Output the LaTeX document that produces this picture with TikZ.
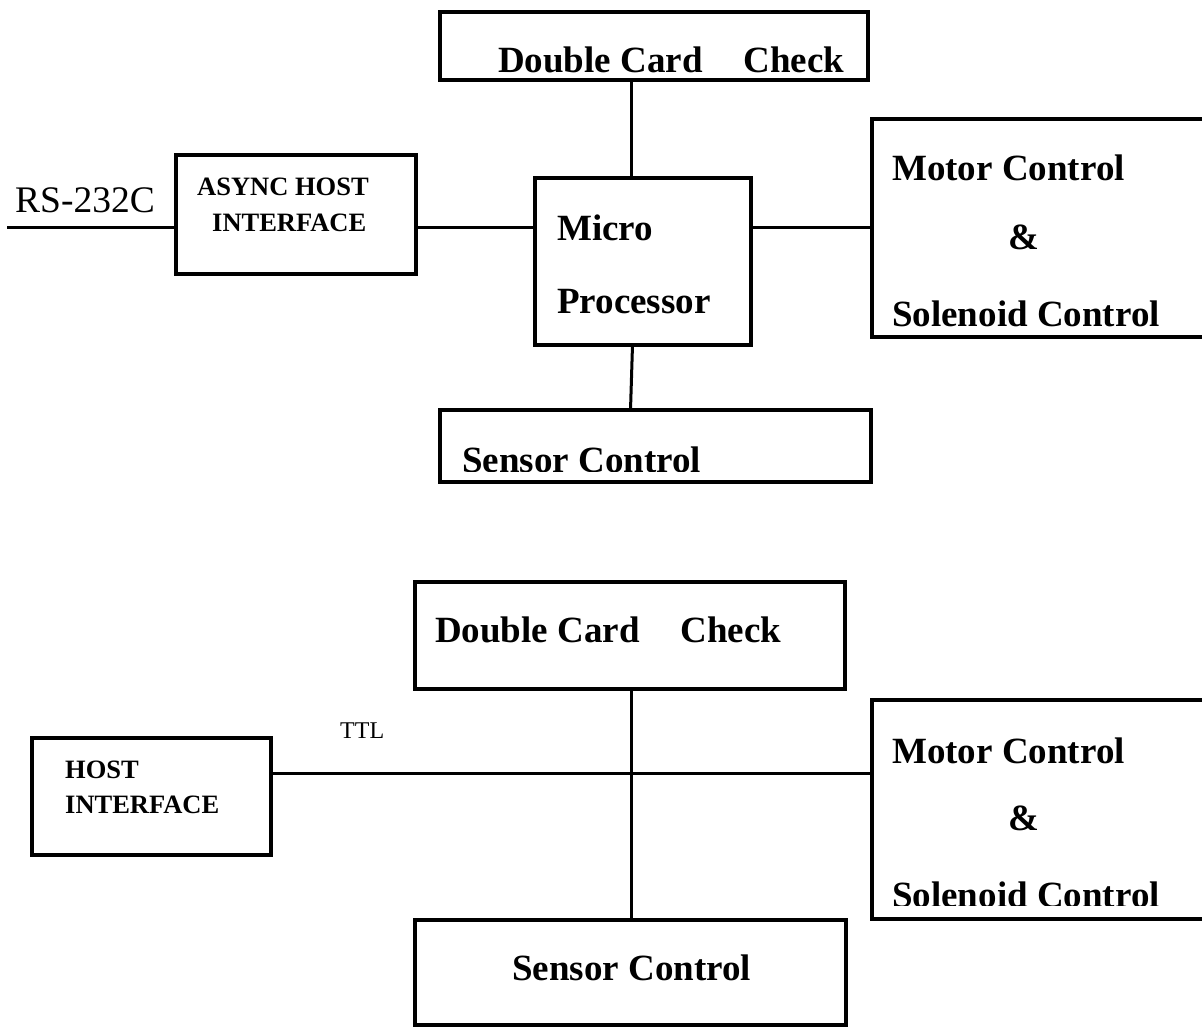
\documentclass[tikz,border=0pt]{standalone}
\usepackage{fontspec}
\setmainfont{Liberation Serif}
\usetikzlibrary{calc}

\tikzset{
  box/.style={draw, line width=4pt, inner sep=0pt, outer sep=0pt},
  wire/.style={line width=3pt},
  big/.style={anchor=base west, inner sep=0pt, font=\bfseries\fontsize{37}{40}\selectfont},
  small/.style={anchor=base west, inner sep=0pt, font=\bfseries\fontsize{26.5}{30}\selectfont},
  plain/.style={anchor=base west, inner sep=0pt}
}

\begin{document}
\begin{tikzpicture}[x=1pt, y=-1pt]
        \useasboundingbox (0,0) rectangle (1202,1028);

        % Верхняя схема
        \node[box, minimum width=428pt, minimum height=68pt] (dcA) at (654,45.5) {};
        \node[box, minimum width=216pt, minimum height=167pt] (mpA) at (643,261.5) {};
        \node[box, minimum width=431.5pt, minimum height=72pt] (seA) at (655.25,446) {};
        \node[box, minimum width=348pt, minimum height=218pt] (moA) at (1046,228) {};
        \node[box, minimum width=239.5pt, minimum height=119pt] (asA) at (295.75,214.5) {};
        \coordinate (rowA) at (0,227);
        \coordinate (busA) at (631,0);
        \coordinate (inA) at (7,227);

        \draw[wire] (inA) -- (asA.west |- rowA);
        \draw[wire] (asA.east |- rowA) -- (mpA.west |- rowA);
        \draw[wire] (mpA.east |- rowA) -- (moA.west |- rowA);
        \draw[wire] (dcA.south -| busA) -- (mpA.north -| busA);
        \draw[wire] ($(mpA.south)+(-10.5,0)$) -- ($(seA.north)+(-24.75,0)$);

        \node[plain, font=\fontsize{37.5}{40}\selectfont] (rsA) at (15,212) {RS-232C};
        \node[small] (asTopA) at (197,195) {ASYNC HOST};
        \node[small] (asBotA) at (212,231) {INTERFACE};
        \node[big] (dcTxtA) at (498,72) {Double Card\hspace{1.1em}Check};
        \node[big] (mpTopA) at (557,240) {Micro};
        \node[big] (mpBotA) at (557,313) {Processor};
        \node[big] (moTopA) at (892,180) {Motor Control};
        \node[big] (moMidA) at (1008,249) {\&};
        \node[big] (moBotA) at (892,326) {Solenoid Control};
        \begin{scope}
            \clip (430,400) rectangle (880,471);
            \node[big] (seTxtA) at (462,472) {Sensor Control};
        \end{scope}

        % Нижняя схема
        \node[box, minimum width=430pt, minimum height=107pt] (dcB) at (630,635.5) {};
        \node[box, minimum width=431pt, minimum height=105pt] (seB) at (630.5,972.5) {};
        \node[box, minimum width=348pt, minimum height=218.5pt] (moB) at (1046,809.25) {};
        \node[box, minimum width=239pt, minimum height=117pt] (hoB) at (151,796.5) {};
        \coordinate (rowB) at (0,773.5);
        \coordinate (busB) at (631,0);

        \draw[wire] (hoB.east |- rowB) -- (moB.west |- rowB);
        \draw[wire] (dcB.south -| busB) -- (seB.north -| busB);

        \node[plain, font=\fontsize{24}{28}\selectfont] (ttlB) at (340,738) {TTL};
        \node[small] (hoTopB) at (65,778) {HOST};
        \node[small] (hoBotB) at (65,813) {INTERFACE};
        \node[big] (dcTxtB) at (435,642) {Double Card\hspace{1.1em}Check};
        \node[big] (seTxtB) at (512,980) {Sensor Control};
        \node[big] (moTopB) at (892,763) {Motor Control};
        \node[big] (moMidB) at (1008,830) {\&};
        \begin{scope}
            \clip (870,700) rectangle (1210,905.7);
            \node[big] (moBotB) at (892,907.5) {Solenoid Control};
        \end{scope}

    \end{tikzpicture}
\end{document}
